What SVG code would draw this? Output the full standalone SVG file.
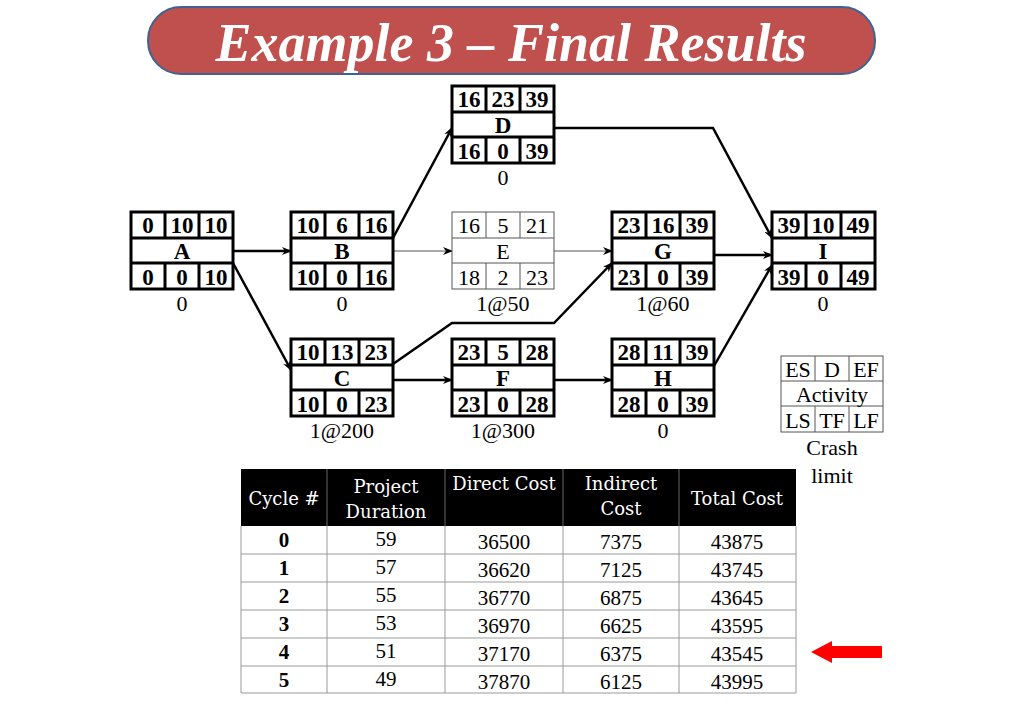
<svg xmlns="http://www.w3.org/2000/svg" width="1024" height="709" viewBox="0 0 1024 709">
<style>
.b{fill:#fff;stroke:#000;stroke-width:3}
.l{stroke:#000;stroke-width:3;fill:none}
.bt{fill:#fff;stroke:#555;stroke-width:1}
.lt{stroke:#555;stroke-width:1;fill:none}
.t{font-family:"Liberation Serif",serif;font-size:23px;font-weight:bold;text-anchor:middle}
.tn{font-family:"Liberation Serif",serif;font-size:22px;text-anchor:middle}
.c{fill:none;stroke:#000;stroke-width:2.5}
.ct{fill:none;stroke:#555;stroke-width:1}
.h{font-family:"DejaVu Serif",serif;font-size:18px;fill:#fff;text-anchor:middle}
.d{font-family:"Liberation Serif",serif;font-size:21px;text-anchor:middle}
.g{stroke:#999;stroke-width:1;fill:none}
</style>
<defs>
<marker id="a" markerWidth="10" markerHeight="8" refX="9" refY="4" orient="auto" markerUnits="userSpaceOnUse"><path d="M0,0 L10,4 L0,8 L3,4 Z" fill="#000"/></marker>
</defs>
<rect width="1024" height="709" fill="#fff"/>
<g id="title">
<rect x="148" y="7" width="727" height="67" rx="33" fill="#c0504d" stroke="#3c6394" stroke-width="2"/>
<text x="511" y="61" font-family="Liberation Serif,serif" font-size="54" font-weight="bold" font-style="italic" fill="#fff" text-anchor="middle">Example 3 – Final Results</text>
</g>
<g id="connectors">
<path class="c" d="M233,251 L291,251" marker-end="url(#a)"/>
<path class="c" d="M233,263 L291,370" marker-end="url(#a)"/>
<path class="c" d="M393,238 L452,128" marker-end="url(#a)"/>
<path class="ct" d="M393,251 L452,251" marker-end="url(#a)"/>
<path class="c" d="M393,364 L452,323 L554,323 L612,263" marker-end="url(#a)"/>
<path class="c" d="M393,380 L452,380" marker-end="url(#a)"/>
<path class="c" d="M554,128 L713,128 L772,238" marker-end="url(#a)"/>
<path class="ct" d="M554,251 L612,251" marker-end="url(#a)"/>
<path class="c" d="M714,255 L772,255" marker-end="url(#a)"/>
<path class="c" d="M554,380 L612,380" marker-end="url(#a)"/>
<path class="c" d="M714,366 L772,265" marker-end="url(#a)"/>
</g>
<g id="A"><rect class="b" x="131" y="212" width="102" height="77"/><path class="l" d="M131,238H233M131,263H233M165,212V238M199,212V238M165,263V289M199,263V289"/>
<text class="t" x="148" y="233">0</text><text class="t" x="182" y="233">10</text><text class="t" x="216" y="233">10</text><text class="t" x="182" y="259">A</text>
<text class="t" x="148" y="285">0</text><text class="t" x="182" y="285">0</text><text class="t" x="216" y="285">10</text><text class="tn" x="182" y="311">0</text></g>
<g id="B"><rect class="b" x="291" y="212" width="102" height="77"/><path class="l" d="M291,238H393M291,263H393M325,212V238M359,212V238M325,263V289M359,263V289"/>
<text class="t" x="308" y="233">10</text><text class="t" x="342" y="233">6</text><text class="t" x="376" y="233">16</text><text class="t" x="342" y="259">B</text>
<text class="t" x="308" y="285">10</text><text class="t" x="342" y="285">0</text><text class="t" x="376" y="285">16</text><text class="tn" x="342" y="311">0</text></g>
<g id="C"><rect class="b" x="291" y="339" width="102" height="77"/><path class="l" d="M291,365H393M291,390H393M325,339V365M359,339V365M325,390V416M359,390V416"/>
<text class="t" x="308" y="360">10</text><text class="t" x="342" y="360">13</text><text class="t" x="376" y="360">23</text><text class="t" x="342" y="386">C</text>
<text class="t" x="308" y="412">10</text><text class="t" x="342" y="412">0</text><text class="t" x="376" y="412">23</text><text class="tn" x="342" y="438">1@200</text></g>
<g id="D"><rect class="b" x="452" y="86" width="102" height="77"/><path class="l" d="M452,112H554M452,137H554M486,86V112M520,86V112M486,137V163M520,137V163"/>
<text class="t" x="469" y="107">16</text><text class="t" x="503" y="107">23</text><text class="t" x="537" y="107">39</text><text class="t" x="503" y="133">D</text>
<text class="t" x="469" y="159">16</text><text class="t" x="503" y="159">0</text><text class="t" x="537" y="159">39</text><text class="tn" x="503" y="185">0</text></g>
<g id="E"><rect class="bt" x="452" y="212" width="102" height="77"/><path class="lt" d="M452,238H554M452,263H554M486,212V238M520,212V238M486,263V289M520,263V289"/>
<text class="tn" x="469" y="233">16</text><text class="tn" x="503" y="233">5</text><text class="tn" x="537" y="233">21</text><text class="tn" x="503" y="259">E</text>
<text class="tn" x="469" y="285">18</text><text class="tn" x="503" y="285">2</text><text class="tn" x="537" y="285">23</text><text class="tn" x="503" y="311">1@50</text></g>
<g id="F"><rect class="b" x="452" y="339" width="102" height="77"/><path class="l" d="M452,365H554M452,390H554M486,339V365M520,339V365M486,390V416M520,390V416"/>
<text class="t" x="469" y="360">23</text><text class="t" x="503" y="360">5</text><text class="t" x="537" y="360">28</text><text class="t" x="503" y="386">F</text>
<text class="t" x="469" y="412">23</text><text class="t" x="503" y="412">0</text><text class="t" x="537" y="412">28</text><text class="tn" x="503" y="438">1@300</text></g>
<g id="G"><rect class="b" x="612" y="212" width="102" height="77"/><path class="l" d="M612,238H714M612,263H714M646,212V238M680,212V238M646,263V289M680,263V289"/>
<text class="t" x="629" y="233">23</text><text class="t" x="663" y="233">16</text><text class="t" x="697" y="233">39</text><text class="t" x="663" y="259">G</text>
<text class="t" x="629" y="285">23</text><text class="t" x="663" y="285">0</text><text class="t" x="697" y="285">39</text><text class="tn" x="663" y="311">1@60</text></g>
<g id="H"><rect class="b" x="612" y="339" width="102" height="77"/><path class="l" d="M612,365H714M612,390H714M646,339V365M680,339V365M646,390V416M680,390V416"/>
<text class="t" x="629" y="360">28</text><text class="t" x="663" y="360">11</text><text class="t" x="697" y="360">39</text><text class="t" x="663" y="386">H</text>
<text class="t" x="629" y="412">28</text><text class="t" x="663" y="412">0</text><text class="t" x="697" y="412">39</text><text class="tn" x="663" y="438">0</text></g>
<g id="I"><rect class="b" x="772" y="212" width="103" height="77"/><path class="l" d="M772,238H875M772,263H875M806,212V238M841,212V238M806,263V289M841,263V289"/>
<text class="t" x="789" y="233">39</text><text class="t" x="823" y="233">10</text><text class="t" x="858" y="233">49</text><text class="t" x="823" y="259">I</text>
<text class="t" x="789" y="285">39</text><text class="t" x="823" y="285">0</text><text class="t" x="858" y="285">49</text><text class="tn" x="823" y="311">0</text></g>
<g id="legend"><rect class="bt" x="781" y="356" width="102" height="76"/><path class="lt" d="M781,381H883M781,406H883M815,356V381M849,356V381M815,406V432M849,406V432"/>
<text class="tn" x="798" y="377">ES</text><text class="tn" x="832" y="377">D</text><text class="tn" x="866" y="377">EF</text><text class="tn" x="832" y="402">Activity</text>
<text class="tn" x="798" y="428">LS</text><text class="tn" x="832" y="428">TF</text><text class="tn" x="866" y="428">LF</text>
<text class="tn" x="832" y="455">Crash</text><text class="tn" x="832" y="483">limit</text></g>
<g id="table">
<rect x="241" y="469" width="555" height="57" fill="#000"/>
<text class="h" x="284" y="505">Cycle #</text>
<text class="h" x="386" y="493">Project</text><text class="h" x="386" y="518">Duration</text>
<text class="h" x="504" y="490">Direct Cost</text>
<text class="h" x="621" y="490">Indirect</text><text class="h" x="621" y="515">Cost</text>
<text class="h" x="737" y="505">Total Cost</text>
<path class="g" d="M241,526V693H796V526M327,526V693M445,526V693M563,526V693M679,526V693M241,554H796M241,582H796M241,610H796M241,638H796M241,666H796"/>
<path d="M327,469V526M445,469V526M563,469V526M679,469V526" stroke="#666" stroke-width="1"/>
<g class="d">
<text x="284" y="547" font-weight="bold">0</text><text x="386" y="546">59</text><text x="504" y="549">36500</text><text x="621" y="549">7375</text><text x="737" y="549">43875</text>
<text x="284" y="575" font-weight="bold">1</text><text x="386" y="574">57</text><text x="504" y="577">36620</text><text x="621" y="577">7125</text><text x="737" y="577">43745</text>
<text x="284" y="603" font-weight="bold">2</text><text x="386" y="602">55</text><text x="504" y="605">36770</text><text x="621" y="605">6875</text><text x="737" y="605">43645</text>
<text x="284" y="631" font-weight="bold">3</text><text x="386" y="630">53</text><text x="504" y="633">36970</text><text x="621" y="633">6625</text><text x="737" y="633">43595</text>
<text x="284" y="659" font-weight="bold">4</text><text x="386" y="658">51</text><text x="504" y="661">37170</text><text x="621" y="661">6375</text><text x="737" y="661">43545</text>
<text x="284" y="687" font-weight="bold">5</text><text x="386" y="686">49</text><text x="504" y="689">37870</text><text x="621" y="689">6125</text><text x="737" y="689">43995</text>
</g>
</g>
<g id="arrow"><path d="M811,652 L832,641 L832,646 L882,646 L882,658 L832,658 L832,663 Z" fill="#f00"/></g>
</svg>
